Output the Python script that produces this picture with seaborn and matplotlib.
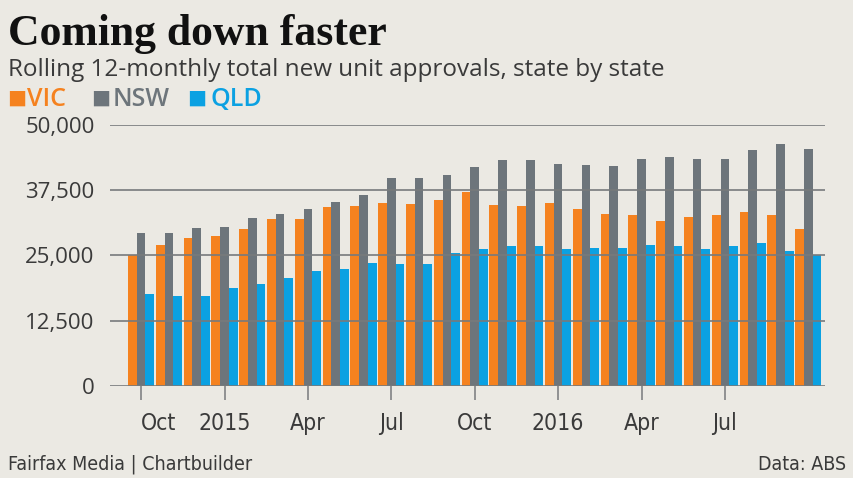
import matplotlib
matplotlib.use("Agg")
import matplotlib.pyplot as plt
import seaborn as sns
import pandas as pd

# rolling 12-month new unit approvals, Oct 2014 .. Oct 2016
months = ["Oct 14", "Nov 14", "Dec 14", "Jan 15", "Feb 15", "Mar 15", "Apr 15",
          "May 15", "Jun 15", "Jul 15", "Aug 15", "Sep 15", "Oct 15", "Nov 15",
          "Dec 15", "Jan 16", "Feb 16", "Mar 16", "Apr 16", "May 16", "Jun 16",
          "Jul 16", "Aug 16", "Sep 16", "Oct 16"]
vic = [25100, 27100, 28300, 28700, 30100, 31900, 32000, 34300, 34500, 35100,
       34800, 35600, 37100, 34700, 34500, 35100, 34000, 32900, 32800, 31600,
       32400, 32700, 33300, 32700, 30100]
nsw = [29400, 29400, 30300, 30500, 32200, 33000, 34000, 35300, 36600, 39800,
       39900, 40400, 41900, 43200, 43200, 42500, 42300, 42100, 43400, 43800,
       43400, 43400, 45300, 46400, 45400]
qld = [17600, 17200, 17200, 18800, 19500, 20700, 22000, 22500, 23500, 23300,
       23400, 25500, 26200, 26800, 26900, 26300, 26400, 26400, 27100, 26900,
       26200, 26900, 27300, 25800, 25000]

states = ["VIC", "NSW", "QLD"]
colors = {"VIC": "#F5821F", "NSW": "#6D757B", "QLD": "#0BA1E2"}

tick_pos = [0, 3, 6, 9, 12, 15, 18, 21]
tick_labels = ["Oct", "2015", "Apr", "Jul", "Oct", "2016", "Apr", "Jul"]
y_ticks = [0, 12500, 25000, 37500, 50000]

bg = "#EBE9E3"
grid_col = "#777A7C"
text_col = "#3A3A3A"

df = pd.DataFrame({
    "month": months * 3,
    "state": ["VIC"] * len(months) + ["NSW"] * len(months) + ["QLD"] * len(months),
    "value": vic + nsw + qld,
})

W, H = 854, 478
fig = plt.figure(figsize=(W / 100, H / 100), dpi=100, facecolor=bg)
ax = fig.add_axes([110 / W, 1 - 386 / H, (825 - 110) / W, (386 - 125) / H], facecolor=bg)

sns.barplot(data=df, x="month", y="value", hue="state", hue_order=states,
            palette=colors, width=0.94, saturation=1, legend=False, ax=ax,
            linewidth=0, errorbar=None)

ax.set_xlim(-1.12, 24.6)
ax.set_ylim(0, 50000)
for s in ax.spines.values():
    s.set_visible(False)

ax.set_yticks(y_ticks)
ax.set_yticklabels([f"{v:,}" for v in y_ticks], fontsize=16, color=text_col,
                   family="Open Sans")
ax.tick_params(axis="y", length=0, pad=11)
ax.set_axisbelow(False)
ax.yaxis.grid(True, color=grid_col, linewidth=1.2)
ax.xaxis.grid(False)

ax.set_xticks(tick_pos)
ax.set_xticklabels(tick_labels, fontsize=16.5, color=text_col,
                   family="DejaVu Sans", stretch="condensed")
ax.get_xticklabels()[0].set_horizontalalignment("left")
ax.tick_params(axis="x", length=10, width=1.1, color=grid_col, pad=9)
ax.set_xlabel("")
ax.set_ylabel("")

fig.text(8 / W, 1 - 45 / H, "Coming down faster", fontsize=31.5, fontweight="bold",
         family="Liberation Serif", color="#111111", va="baseline")
fig.text(8 / W, 1 - 76 / H, "Rolling 12-monthly total new unit approvals, state by state",
         fontsize=17.5, family="Open Sans", color=text_col, va="baseline")

for st, sx, tx in zip(states, [7, 91, 187], [27, 113, 211]):
    fig.text(sx / W, 1 - 104 / H, "\u25A0", fontsize=14.5, color=colors[st],
             family="DejaVu Sans", va="baseline")
    fig.text(tx / W, 1 - 106 / H, st, fontsize=18, fontweight="semibold",
             family="Open Sans", color=colors[st], va="baseline")

fig.text(8 / W, 1 - 470 / H, "Fairfax Media | Chartbuilder", fontsize=14,
         family="DejaVu Sans", stretch="condensed", color=text_col, va="baseline")
fig.text(846 / W, 1 - 470 / H, "Data: ABS", fontsize=14, family="DejaVu Sans",
         stretch="condensed", color=text_col, va="baseline", ha="right")

fig.savefig("out.png", dpi=100, facecolor=bg)
